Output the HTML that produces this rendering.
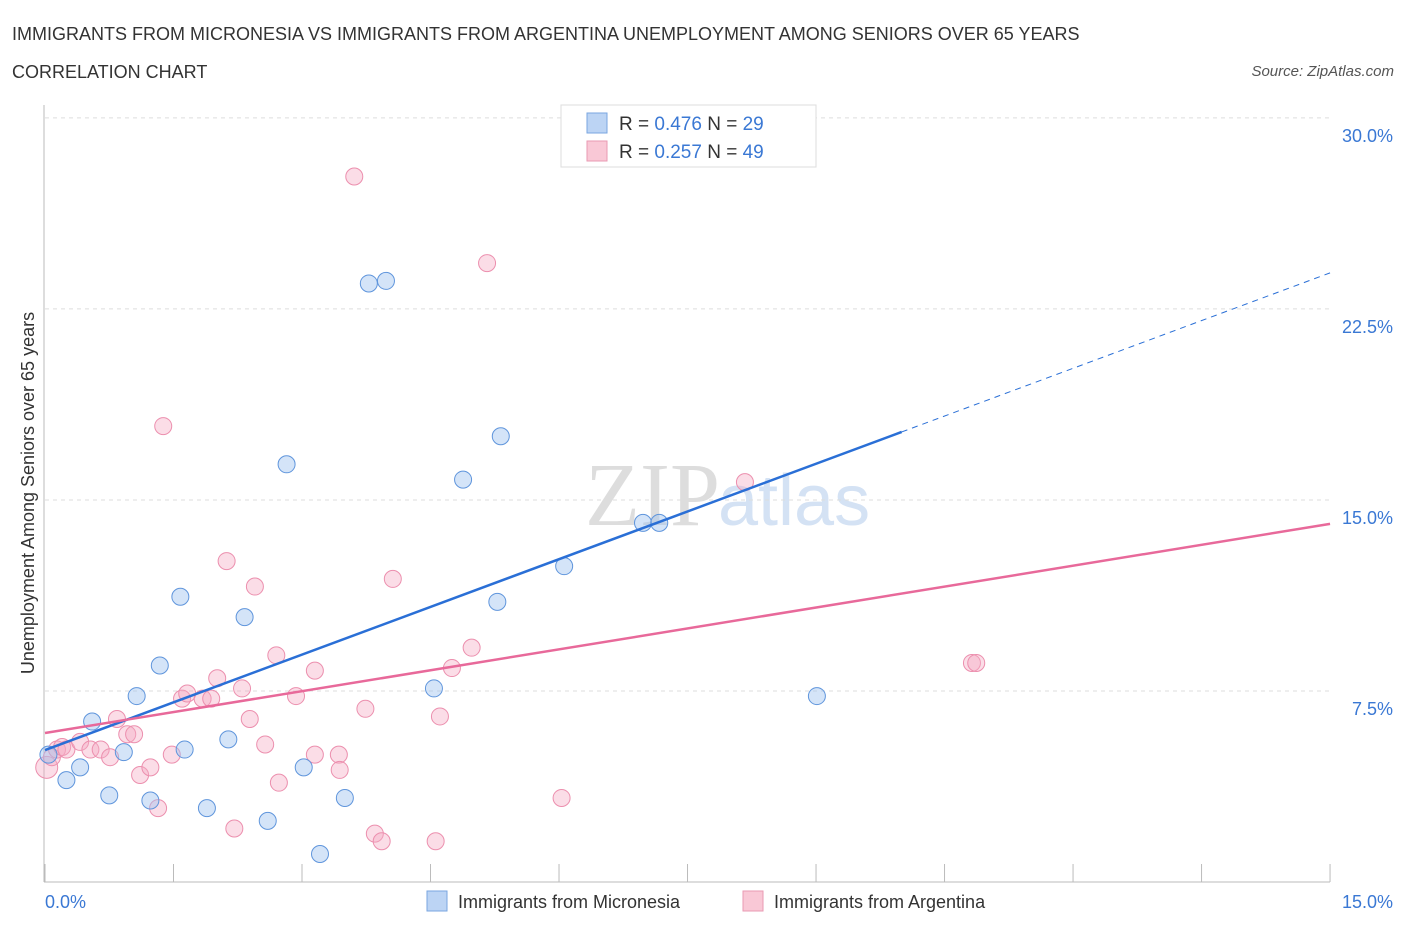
<!DOCTYPE html>
<html><head><meta charset="utf-8"><style>
body{margin:0;background:#fff;font-family:"Liberation Sans",sans-serif;}
</style></head><body>
<svg width="1406" height="930" xmlns="http://www.w3.org/2000/svg" id="chart" style="font-family:'Liberation Sans',sans-serif">
<text x="12" y="40" font-size="18" fill="#333">IMMIGRANTS FROM MICRONESIA VS IMMIGRANTS FROM ARGENTINA UNEMPLOYMENT AMONG SENIORS OVER 65 YEARS</text>
<text x="12" y="78" font-size="18" fill="#333">CORRELATION CHART</text>
<text x="1394" y="76" font-size="15" fill="#555" font-style="italic" text-anchor="end">Source: ZipAtlas.com</text>
<text x="720" y="525" font-size="90" fill="#ddd" text-anchor="end" font-family="Liberation Serif">ZIP</text>
<text x="718" y="525" font-size="72" fill="#d4e2f4">atlas</text>
<g id="grid"></g>
<line x1="44" y1="105" x2="44" y2="882" stroke="#bbb"/>
<line x1="44" y1="882" x2="1330" y2="882" stroke="#bbb"/>
<g id="ticks"></g>
<text transform="translate(34,493) rotate(-90)" font-size="18" fill="#333" text-anchor="middle">Unemployment Among Seniors over 65 years</text>
<text x="45" y="908" font-size="18" fill="#3a78d4">0.0%</text>
<text x="1393" y="908" font-size="18" fill="#3a78d4" text-anchor="end">15.0%</text>
<g id="pts"></g>
<g id="lines"></g>
<g>
<rect x="561" y="105" width="255" height="62" fill="#fff" stroke="#ddd"/>
<rect x="587" y="113" width="20" height="20" fill="#bcd4f4" stroke="#7aa6e0"/>
<text x="619" y="130" font-size="19" fill="#333">R = <tspan fill="#3a78d4">0.476</tspan>   N = <tspan fill="#3a78d4">29</tspan></text>
<rect x="587" y="141" width="20" height="20" fill="#f9c8d6" stroke="#e99ab3"/>
<text x="619" y="158" font-size="19" fill="#333">R = <tspan fill="#3a78d4">0.257</tspan>   N = <tspan fill="#3a78d4">49</tspan></text>
</g>
<g>
<rect x="427" y="891" width="20" height="20" fill="#bcd4f4" stroke="#7aa6e0"/>
<text x="458" y="908" font-size="18" fill="#333">Immigrants from Micronesia</text>
<rect x="743" y="891" width="20" height="20" fill="#f9c8d6" stroke="#e99ab3"/>
<text x="774" y="908" font-size="18" fill="#333">Immigrants from Argentina</text>
</g>
</svg>
<script>
const yTicks=[7.5,15,22.5,30];
const yTickLabels=["7.5%","15.0%","22.5%","30.0%"];
const xTicks=[0,1.5,3,4.5,6,7.5,9,10.5,12,13.5,15];
const blueX=[0.04,0.25,0.41,0.55,0.75,0.92,1.07,1.23,1.34,1.58,1.63,1.89,2.14,2.33,2.6,2.82,3.02,3.21,3.5,3.78,3.98,4.54,4.88,5.28,5.32,6.06,6.98,7.17,9.01];
const blueY=[5.0,4.0,4.5,6.3,3.4,5.1,7.3,3.2,8.5,11.2,5.2,2.9,5.6,10.4,2.4,16.4,4.5,1.1,3.3,23.5,23.6,7.6,15.8,11.0,17.5,12.4,14.1,14.1,7.3];
const pinkX=[0.02,0.08,0.14,0.2,0.25,0.41,0.53,0.65,0.76,0.84,0.96,1.04,1.11,1.23,1.32,1.38,1.48,1.6,1.66,1.84,1.94,2.01,2.12,2.21,2.3,2.39,2.45,2.57,2.7,2.73,2.93,3.15,3.15,3.43,3.44,3.61,3.74,3.85,3.93,4.06,4.56,4.61,4.75,4.98,5.16,6.03,8.17,10.82,10.87];
const pinkY=[4.5,4.9,5.2,5.3,5.2,5.5,5.2,5.2,4.9,6.4,5.8,5.8,4.2,4.5,2.9,17.9,5.0,7.2,7.4,7.2,7.2,8.0,12.6,2.1,7.6,6.4,11.6,5.4,8.9,3.9,7.3,5.0,8.3,5.0,4.4,27.7,6.8,1.9,1.6,11.9,1.6,6.5,8.4,9.2,24.3,3.3,15.7,8.6,8.6];
const blueFit=[5.18,17.67];const pinkFit=[5.85,14.06];
const X=v=>45+v*85.67, Y=v=>882-v*25.47;
const NS="http://www.w3.org/2000/svg";
function mk(tag,a,parent){const e=document.createElementNS(NS,tag);for(const k in a)e.setAttribute(k,a[k]);document.getElementById(parent).appendChild(e);return e;}
yTicks.forEach((t,i)=>{
 const l=mk('line',{x1:45,x2:1330,y1:Y(t),y2:Y(t),stroke:'#ddd','stroke-dasharray':'4,4'},'grid');
 
 
 const tx=mk('text',{x:1393,y:Y(t)+24,'font-size':18,fill:'#3a78d4','text-anchor':'end'},'grid');
 tx.textContent=yTickLabels[i];
 
 
});
xTicks.forEach(t=>{
 const l=mk('line',{x1:X(t),x2:X(t),y1:864,y2:882,stroke:'#bbb'},'ticks');
 
 
});
pinkX.forEach((v,i)=>{
 const c=mk('circle',{cx:X(v),cy:Y(pinkY[i]),r:i==0?11:8.5,fill:'rgba(245,170,195,0.4)',stroke:'#ec8fae','stroke-width':1},'pts');
 
 
});
blueX.forEach((v,i)=>{
 const c=mk('circle',{cx:X(v),cy:Y(blueY[i]),r:8.5,fill:'rgba(160,195,240,0.45)',stroke:'#5f95dc','stroke-width':1},'pts');
 
 
});
const bs=(blueFit[1]-blueFit[0])/10;
let l1=mk('line',{x1:X(0),y1:Y(blueFit[0]),x2:X(10),y2:Y(blueFit[1]),stroke:'#2a6fd6','stroke-width':2.5},'lines');


let l2=mk('line',{x1:X(10),y1:Y(blueFit[1]),x2:X(15),y2:Y(blueFit[0]+bs*15),stroke:'#2a6fd6','stroke-width':1,'stroke-dasharray':'6,5'},'lines');


let l3=mk('line',{x1:X(0),y1:Y(pinkFit[0]),x2:X(15),y2:Y(pinkFit[1]),stroke:'#e8699a','stroke-width':2.5},'lines');


</script>
</body></html>
